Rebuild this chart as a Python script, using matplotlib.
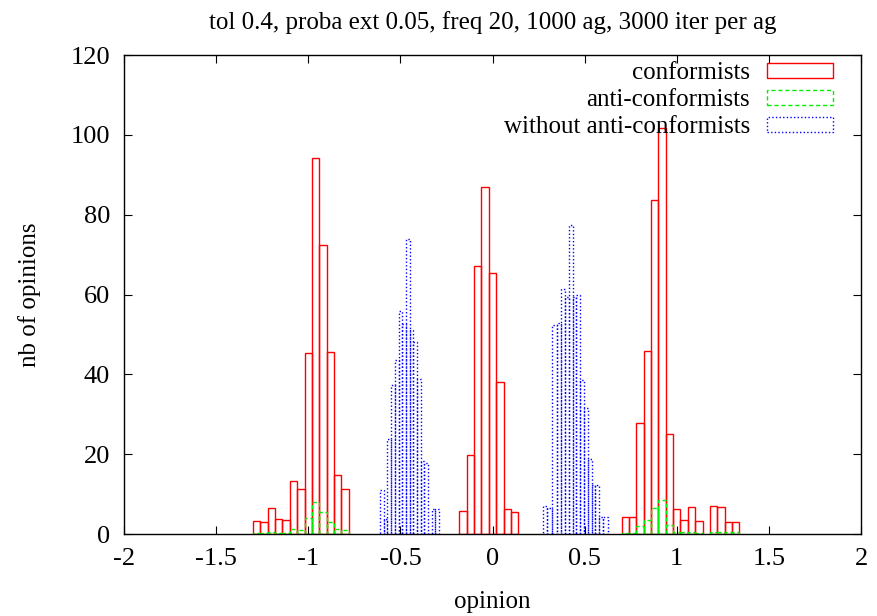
import numpy as np
import matplotlib.pyplot as plt
from matplotlib.patches import Patch

plt.rcParams['font.family'] = ['Liberation Serif', 'DejaVu Serif']

# conformists (bins of 0.04, centres)
conf_x = [-1.28, -1.24, -1.20, -1.16, -1.12, -1.08, -1.04, -1.00, -0.96, -0.92, -0.88, -0.84, -0.80,
          -0.16, -0.12, -0.08, -0.04, 0.00, 0.04, 0.08, 0.12,
          0.72, 0.76, 0.80, 0.84, 0.88, 0.92, 0.96, 1.00, 1.04, 1.08, 1.12, 1.20, 1.24, 1.28, 1.32]
conf_y = [3.2, 2.9, 6.4, 3.8, 3.6, 13.3, 11.2, 45.3, 94.2, 72.4, 45.6, 14.9, 11.3,
          5.8, 19.9, 67.2, 86.9, 65.3, 38.2, 6.2, 5.4,
          4.3, 4.3, 27.7, 45.9, 83.7, 101.8, 25.0, 6.2, 3.5, 6.7, 3.3, 6.9, 6.7, 3.1, 3.1]

# anti-conformists
anti_x = [-1.28, -1.24, -1.20, -1.16, -1.12, -1.08, -1.04, -1.00, -0.96, -0.92, -0.88, -0.84, -0.80,
          0.72, 0.76, 0.80, 0.84, 0.88, 0.92, 0.96, 1.00, 1.04, 1.08, 1.12, 1.20, 1.24, 1.28, 1.32]
anti_y = [0.3, 0.3, 0.5, 0.3, 0.3, 1.2, 1.0, 4.0, 8.0, 5.5, 3.0, 1.2, 0.9,
          0.3, 0.3, 1.9, 3.4, 6.5, 8.4, 2.3, 0.6, 0.5, 0.6, 0.3, 0.6, 0.6, 0.5, 0.4]

# without anti-conformists (bin edges)
wo_edges_a = [-0.61, -0.59, -0.57, -0.55, -0.53, -0.51, -0.49, -0.47, -0.45,
              -0.43, -0.41, -0.39, -0.37, -0.35, -0.33, -0.31, -0.29]
wo_a = [11.1, 3.8, 23.9, 37.4, 43.6, 55.9, 52.5, 74.0, 51.2, 48.2, 38.9, 18.2, 17.8, 0.0, 6.3, 6.3]
wo_edges_b = [0.273, 0.298, 0.325, 0.352, 0.372, 0.394, 0.414, 0.436, 0.455,
              0.475, 0.497, 0.517, 0.539, 0.558, 0.578, 0.600, 0.629]
wo_b = [6.9, 6.5, 52.4, 52.8, 61.4, 59.5, 77.3, 59.5, 60.0, 38.5, 31.6, 18.8, 12.3, 12.3, 4.2, 4.2]

fig = plt.figure(figsize=(8.77, 6.16), dpi=100)
ax = fig.add_axes([0.1414, 0.1331, 0.8404, 0.7776])

red, green, blue = '#ff0000', '#00ee00', '#0000ff'
dash = (0, (3, 2))
dot = (0, (1, 1.6))

ax.bar(conf_x, conf_y, width=0.04, fill=False, edgecolor=red, linewidth=1.0)
ax.bar(anti_x, anti_y, width=0.04, fill=False, edgecolor=green, linewidth=1.0, linestyle=dash)
for edges, vals in [(wo_edges_a, wo_a), (wo_edges_b, wo_b)]:
    e = np.array(edges)
    ax.bar(e[:-1], vals, width=np.diff(e), align='edge', fill=False,
           edgecolor=blue, linewidth=1.0, linestyle=dot)

ax.set_xlim(-2, 2)
ax.set_ylim(0, 120)
ax.set_xticks(np.arange(-2, 2.01, 0.5))
ax.set_xticklabels(['-2', '-1.5', '-1', '-0.5', '0', '0.5', '1', '1.5', '2'])
ax.set_yticks(np.arange(0, 121, 20))
ax.tick_params(direction='in', top=True, right=True, length=6, labelsize=19, pad=10)
for s in ax.spines.values():
    s.set_linewidth(1.0)

ax.set_xlabel('opinion', fontsize=18, labelpad=15)
ax.set_ylabel('nb of opinions', fontsize=18, labelpad=21)
ax.set_title('tol 0.4, proba ext 0.05, freq 20, 1000 ag, 3000 iter per ag', fontsize=18, pad=19)

handles = [Patch(facecolor='none', edgecolor=red, linewidth=1.0),
           Patch(facecolor='none', edgecolor=green, linewidth=1.0, linestyle=dash),
           Patch(facecolor='none', edgecolor=blue, linewidth=1.0, linestyle=dot)]
ax.legend(handles, ['conformists', 'anti-conformists', 'without anti-conformists'],
          loc='upper right', bbox_to_anchor=(0.962, 0.985), frameon=False, markerfirst=False,
          fontsize=18, handlelength=2.64, handleheight=0.56, handletextpad=0.68,
          labelspacing=0.2, borderpad=0, borderaxespad=0)

fig.savefig('out.png', dpi=100)
